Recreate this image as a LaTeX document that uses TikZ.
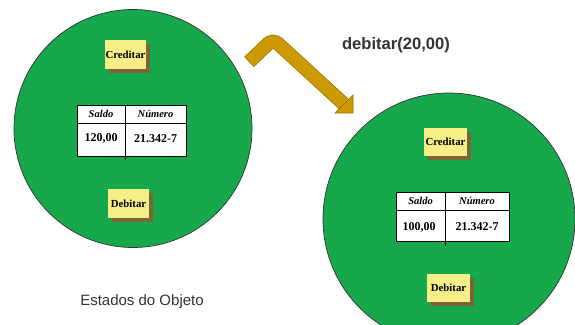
\documentclass[tikz,border=0pt]{standalone}
\usepackage{fontspec}
\setmainfont{Liberation Serif}
\setsansfont{Liberation Sans}
\definecolor{objgreen}{HTML}{18A84C}
\definecolor{notey}{HTML}{F6EE86}
\definecolor{noteshadow}{HTML}{7A6634}
\definecolor{gold}{HTML}{CC9900}
\definecolor{golddark}{HTML}{9C7400}
\definecolor{txtgray}{HTML}{333333}
\tikzset{
  objcircle/.style={fill=objgreen,draw=black!80,line width=0.7pt},
  note/.style={fill=notey,minimum width=41pt,minimum height=29pt,inner sep=0pt,
    font=\fontsize{10.8}{12}\selectfont\bfseries,
    preaction={fill=noteshadow,transform canvas={shift={(4pt,-4pt)}}}},
  tabframe/.style={fill=white,draw=black,line width=0.6pt},
  tabline/.style={draw=black,line width=0.6pt},
  headtxt/.style={font=\fontsize{10.5}{12}\selectfont\bfseries\itshape},
  valtxt/.style={font=\fontsize{12}{13}\selectfont\bfseries},
}
\begin{document}
\begin{tikzpicture}[x=1pt,y=-1pt]
\useasboundingbox (0,0) rectangle (575,324);
% circles
\begin{scope}
\clip (0,0) rectangle (575,324);
\node[objcircle,circle,minimum size=238pt,inner sep=0pt] (c1) at (133,128.5) {};
\node[objcircle,circle,minimum size=252pt,inner sep=0pt] (c2) at (449,219) {};
\end{scope}
% left object
\node[note] (cred1) at (125.5,54.5) {Creditar};
\node[note] (deb1) at (128.5,203.5) {Debitar};
\draw[tabframe] (77,105) rectangle (186,156);
\coordinate (t1a) at (77,123);
\coordinate (t1b) at (186,123);
\coordinate (t1c) at (125,105);
\coordinate (t1d) at (125,160);
\draw[tabline] (t1a) -- (t1b);
\draw[tabline] (t1c) -- (t1d);
\node[headtxt] (s1) at (101,114) {Saldo};
\node[headtxt] (n1) at (155.5,114) {Número};
\node[valtxt] (v1) at (101,138.5) {120,00};
\node[valtxt] (m1) at (155.5,138.5) {21.342-7};
% right object
\node[note,minimum width=43pt,minimum height=28pt] (cred2) at (445.5,142) {Creditar};
\node[note,minimum width=43pt,minimum height=28pt] (deb2) at (448.5,288) {Debitar};
\draw[tabframe] (396,192) rectangle (509,241);
\coordinate (t2a) at (396,210);
\coordinate (t2b) at (509,210);
\coordinate (t2c) at (445,192);
\coordinate (t2d) at (445,246);
\draw[tabline] (t2a) -- (t2b);
\draw[tabline] (t2c) -- (t2d);
\node[headtxt] (s2) at (420.5,201) {Saldo};
\node[headtxt] (n2) at (477,201) {Número};
\node[valtxt] (v2) at (419,227) {100,00};
\node[valtxt] (m2) at (477,227) {21.342-7};
% bent arrow
\coordinate (aS) at (249,62);
\coordinate (aC) at (273,39);
\coordinate (aE) at (346,106);
\draw[golddark,line width=14pt,rounded corners=7pt] (aS) -- (aC) -- (aE);
\draw[gold,line width=12.6pt,rounded corners=7pt,shorten <=0.7pt] (aS) -- (aC) -- (aE);
\coordinate (hA) at (353,95);
\coordinate (hT) at (353,113);
\coordinate (hB) at (335,113);
\filldraw[fill=gold,draw=golddark,line width=0.7pt,line join=miter] (hA) -- (hT) -- (hB) -- cycle;
% labels
\node[font=\sffamily\fontsize{16.6}{19}\selectfont\bfseries,text=txtgray] (lab) at (396,45) {debitar(20,00)};
\node[font=\sffamily\fontsize{15}{18}\selectfont,text=txtgray] (title) at (142,302) {Estados do Objeto};
\end{tikzpicture}
\end{document}
